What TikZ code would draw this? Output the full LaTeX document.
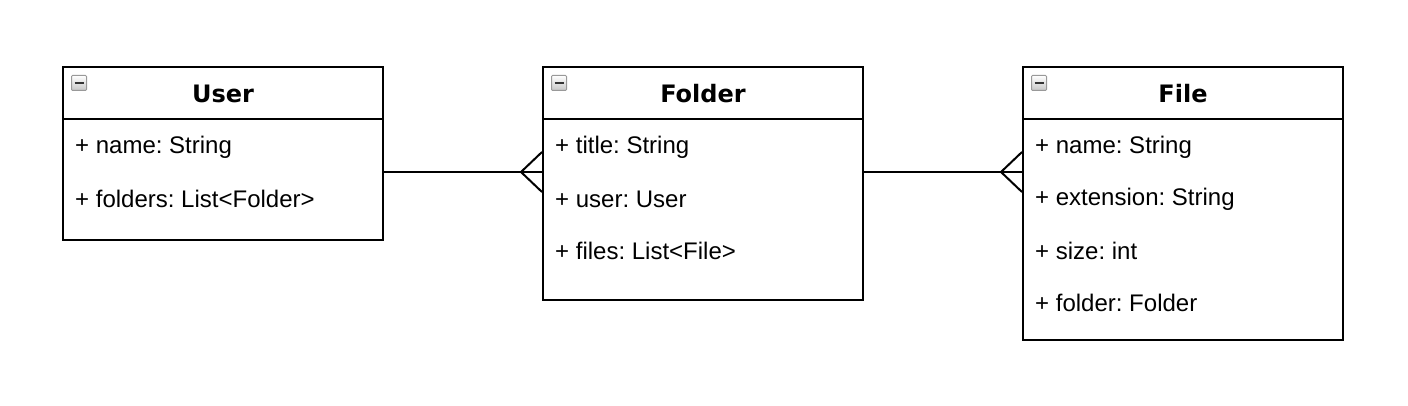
\documentclass[tikz,border=0pt]{standalone}
\usepackage{fontspec}
\setmainfont{Liberation Sans}
\newfontfamily\titlefont{DejaVu Sans}
\usepackage{tikz}
\usetikzlibrary{positioning,calc}
\frenchspacing
\tikzstyle{classhead} = [draw, line width=2pt, minimum width=320pt, minimum height=52pt, inner sep=0pt, anchor=north west]
\tikzstyle{classtitle} = [inner sep=0pt, font=\titlefont\bfseries\fontsize{24pt}{28pt}\selectfont]
\tikzstyle{classbody} = [draw, line width=2pt, minimum width=320pt, inner sep=0pt]
\tikzstyle{classattr} = [anchor=west, inner sep=0pt, font=\fontsize{24pt}{28pt}\selectfont]
\tikzstyle{classicon} = [draw=gray!80, line width=1pt, rounded corners=1pt, top color=white, bottom color=gray!45, minimum size=15pt, inner sep=0pt]
\tikzstyle{assoc} = [draw, line width=2pt]
\newcommand{\xyshift}[3]{% help to place the classes
  \begin{scope}[xshift=#1, yshift=#2]
    #3
  \end{scope}%
}
\newcommand{\umlclass}[3]{% #1: node name; #2: title; #3: body height
  \node[classhead] (#1) at (0,0) {};
  \node[classtitle] (#1-title) at ([yshift=-28pt] #1.north) {#2};
  \node[classbody, minimum height=#3, below=-2pt of #1] (#1-body) {};
  \node[classicon] (#1-icon) at ([xshift=17pt, yshift=-17pt] #1.north west) {};
  \draw[line width=2.5pt, black!80] ([xshift=-4.5pt] #1-icon.center) -- ([xshift=4.5pt] #1-icon.center);
}
\newcommand{\umlattrs}[2]{% #1: class node; #2: list of attributes
  \foreach \a [count=\i] in {#2}
    \node[classattr] (#1-\i) at ([xshift=13pt, yshift=-29pt-52pt*(\i-1)] #1-body.north west) {\a};
}
\newcommand{\crowfoot}[1]{% #1: end coordinate on the many side
  \draw[assoc] ([xshift=-21pt] #1) -- ([yshift=20pt] #1);
  \draw[assoc] ([xshift=-21pt] #1) -- ([yshift=-20pt] #1);
}

\begin{document}
\begin{tikzpicture}[x=1pt, y=1pt]
        \useasboundingbox (0,0) rectangle (1408,-406);
        % classes
        \xyshift{62pt}{-66pt}{\umlclass{user}{User}{121pt}};
        \xyshift{542pt}{-66pt}{\umlclass{folder}{Folder}{181pt}};
        \xyshift{1022pt}{-66pt}{\umlclass{file}{File}{221pt}};
        \umlattrs{user}{+ name: String, + folders: List<Folder>}
        \umlattrs{folder}{+ title: String, + user: User, + files: List<File>}
        \umlattrs{file}{+ name: String, + extension: String, + size: int, + folder: Folder}
        % associations
        \coordinate (user-out) at ([yshift=-54pt] user-body.north east);
        \coordinate (folder-in) at ([yshift=-54pt] folder-body.north west);
        \coordinate (folder-out) at ([yshift=-54pt] folder-body.north east);
        \coordinate (file-in) at ([yshift=-54pt] file-body.north west);
        \draw[assoc] (user-out) -- (folder-in);
        \draw[assoc] (folder-out) -- (file-in);
        \crowfoot{folder-in}
        \crowfoot{file-in}
      \end{tikzpicture}
\end{document}
